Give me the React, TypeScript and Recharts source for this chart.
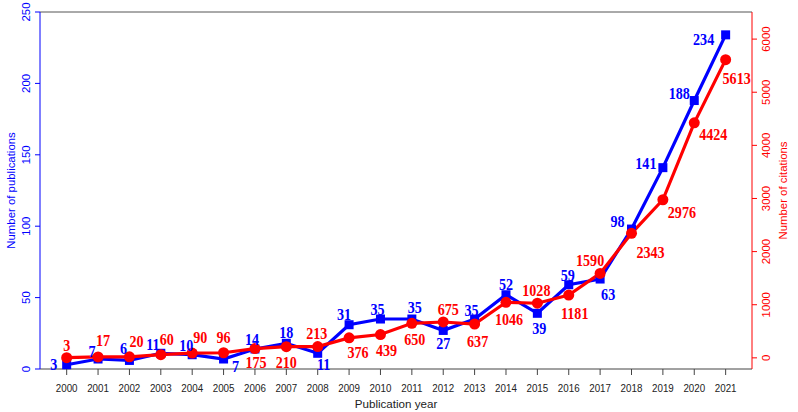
import React from 'react'
import { LineChart, Line, XAxis, YAxis, ReferenceLine, LabelList } from 'recharts'

const YEARS = [2000, 2001, 2002, 2003, 2004, 2005, 2006, 2007, 2008, 2009, 2010, 2011, 2012, 2013, 2014, 2015, 2016, 2017, 2018, 2019, 2020, 2021]
const PUBLICATIONS = [3, 7, 6, 11, 10, 7, 14, 18, 11, 31, 35, 35, 27, 35, 52, 39, 59, 63, 98, 141, 188, 234]
const CITATIONS = [3, 17, 20, 60, 90, 96, 175, 210, 213, 376, 439, 650, 675, 637, 1046, 1028, 1181, 1590, 2343, 2976, 4424, 5613]
const LEFT_TICKS = [0, 50, 100, 150, 200, 250]
const RIGHT_TICKS = [0, 1000, 2000, 3000, 4000, 5000, 6000]

// where each value label sits relative to its point (dx, dy of text centre)
const BLUE_LABEL_POS = [
  [-13, -1], [-6, -8], [-6, -12], [-8, -9], [-6, -10], [12, 7], [-3, -10], [0, -11], [6, 11], [-5, -11], [-3, -10],
  [3, -12], [0, 13], [-3, -9], [0, -11], [2, 15], [-1, -10], [8, 15], [-14, -8], [-17, -5], [-15, -8], [-22, 4],
]
const RED_LABEL_POS = [
  [0, -13], [5, -17], [7, -16], [6, -16], [8, -16], [0, -16], [1, 13], [0, 15], [-1, -14], [9, 14], [6, 15],
  [3, 16], [5, -13], [3, 17], [3, 17], [-1, -13], [6, 18], [-10, -13], [19, 19], [19, 12], [19, 11], [11, 18],
]

const BLUE = '#0000ff'
const RED = '#ff0000'
const AXIS_FONT = '"Liberation Sans", Arial, sans-serif'
const LABEL_FONT = '"Liberation Serif", "Times New Roman", serif'

const data = YEARS.map((year, i) => ({ year, publications: PUBLICATIONS[i], citations: CITATIONS[i] }))

const squareDot = (props: any) => {
  const { cx, cy, index } = props
  return <rect key={`sq-${index}`} x={cx - 4.5} y={cy - 4.5} width={9} height={9} fill={BLUE} />
}

const makeLabel = (color: string, pos: number[][]) => (props: any) => {
  const { x, y, value, index } = props
  const [dx, dy] = pos[index] || [0, 0]
  return (
    <text
      transform={`translate(${x + dx},${y + dy}) scale(0.83,1)`}
      textAnchor="middle"
      dominantBaseline="central"
      fill={color}
      fontFamily={LABEL_FONT}
      fontWeight="bold"
      fontSize={17}
    >
      {value}
    </text>
  )
}

const XTick = (props: any) => {
  const { x, y, payload } = props
  return (
    <text transform={`translate(${x},${y + 11}) scale(0.83,1)`} textAnchor="middle" dominantBaseline="central"
      fill="#222" fontFamily={AXIS_FONT} fontSize={11.8}>
      {payload.value}
    </text>
  )
}

const makeYTick = (color: string, shift: number) => (props: any) => {
  const { x, y, payload } = props
  return (
    <text transform={`translate(${x + shift},${y}) rotate(-90)`} textAnchor="middle" dominantBaseline="central"
      fill={color} fontFamily={AXIS_FONT} fontSize={11.4}>
      {payload.value}
    </text>
  )
}

export default function App() {
  return (
    <div style={{ position: 'absolute', left: 0, top: 0, width: 798, height: 412, background: '#fff' }}>
      <LineChart width={798} height={412} data={data} margin={{ top: 12, right: 0, bottom: 0, left: 0 }}>
        <XAxis
          dataKey="year"
          type="number"
          domain={[1999.15, 2021.84]}
          ticks={YEARS}
          interval={0}
          height={43}
          stroke="#444"
          tickSize={6}
          tick={<XTick />}
          label={{
            value: 'Publication year',
            position: 'insideBottom',
            offset: 4,
            style: { fill: '#222', fontFamily: AXIS_FONT, fontSize: 11.6 },
          }}
        />
        <YAxis
          yAxisId="left"
          domain={[0, 250]}
          ticks={LEFT_TICKS}
          width={40}
          stroke={BLUE}
          tickSize={5}
          tick={makeYTick(BLUE, -7)}
          label={{
            value: 'Number of publications',
            angle: -90,
            position: 'insideLeft',
            offset: 11,
            style: { fill: BLUE, fontFamily: AXIS_FONT, fontSize: 11.4, textAnchor: 'middle' },
          }}
        />
        <YAxis
          yAxisId="right"
          orientation="right"
          domain={[-210, 6510]}
          ticks={RIGHT_TICKS}
          width={46}
          stroke={RED}
          tickSize={5}
          tick={makeYTick(RED, 7)}
          label={{
            value: 'Number of citations',
            angle: -90,
            position: 'insideRight',
            offset: 15,
            style: { fill: RED, fontFamily: AXIS_FONT, fontSize: 11.4, textAnchor: 'middle' },
          }}
        />
        <ReferenceLine yAxisId="left" y={250} stroke="#555" strokeWidth={1} />
        <Line
          yAxisId="left"
          dataKey="publications"
          stroke={BLUE}
          strokeWidth={3.2}
          dot={squareDot}
          activeDot={false}
          isAnimationActive={false}
        >
          <LabelList dataKey="publications" content={makeLabel(BLUE, BLUE_LABEL_POS)} />
        </Line>
        <Line
          yAxisId="right"
          dataKey="citations"
          stroke={RED}
          strokeWidth={3.2}
          dot={{ r: 5.5, fill: RED, stroke: RED, strokeWidth: 0 }}
          activeDot={false}
          isAnimationActive={false}
        >
          <LabelList dataKey="citations" content={makeLabel(RED, RED_LABEL_POS)} />
        </Line>
      </LineChart>
    </div>
  )
}
